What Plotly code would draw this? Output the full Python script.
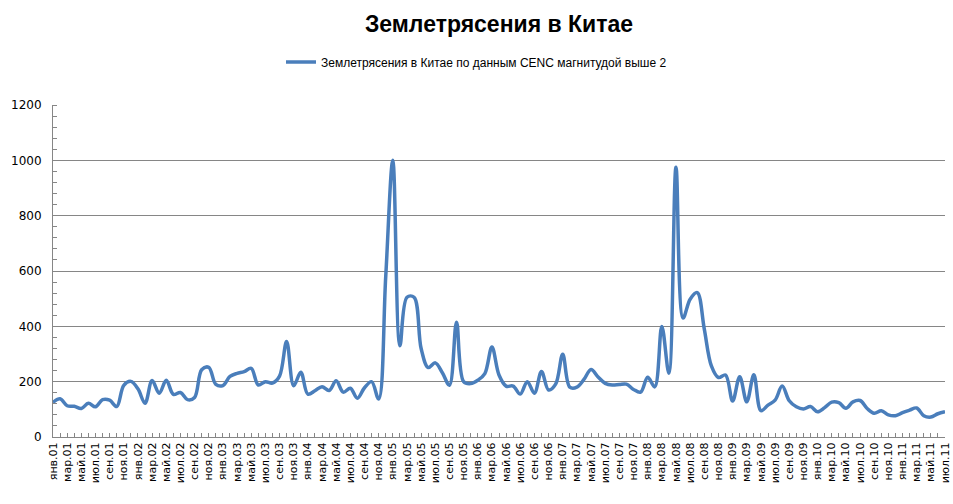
import plotly.graph_objects as go

# Month labels (Jan 2001 .. Jul 2011)
month_abbr = ["янв", "фев", "мар", "апр", "май", "июн", "июл", "авг", "сен", "окт", "ноя", "дек"]
years = list(range(1, 12))
categories = [f"{m}.{y:02d}" for y in years for m in month_abbr][:127]

# Monthly number of earthquakes (M>2, CENC)
quakes = [
    125, 138, 113, 111, 103, 122, 109, 135, 133, 110,
    187, 201, 174, 122, 204, 158, 205, 154, 161, 135,
    143, 243, 252, 190, 186, 219, 230, 236, 248, 188,
    200, 195, 220, 345, 185, 234, 155, 167, 182, 168,
    203, 162, 176, 140, 178, 200, 137, 580, 1000, 330,
    505, 505, 320, 251, 268, 232, 187, 415, 200, 193,
    205, 229, 325, 224, 184, 184, 155, 200, 158, 237,
    170, 191, 299, 180, 180, 208, 244, 217, 194, 188,
    190, 191, 172, 162, 216, 181, 399, 230, 975, 430,
    498, 522, 390, 257, 215, 224, 130, 218, 127, 225,
    95, 115, 133, 184, 131, 109, 101, 110, 91, 106,
    126, 124, 104, 127, 132, 103, 86, 95, 80, 77,
    88, 97, 105, 77, 72, 84, 91,
]

y_ticks = [0, 200, 400, 600, 800, 1000, 1200]

title_text = "Землетрясения в Китае"
series_name = "Землетрясения в Китае по данным CENC магнитудой выше 2"

idx = list(range(len(categories)))
tick_idx = idx[::2]
tick_txt = categories[::2]

fig = go.Figure()
fig.add_trace(go.Scatter(
    x=idx, y=quakes, mode="lines", name=series_name,
    line=dict(color="#4A7EBB", width=3.5, shape="spline", smoothing=1.0),
    customdata=categories,
    hovertemplate="%{customdata}: %{y}<extra></extra>",
))

axis_col = "#868686"
fig.update_layout(
    width=953, height=504,
    margin=dict(l=53, r=8, t=105, b=67, autoexpand=False),
    paper_bgcolor="white", plot_bgcolor="white",
    showlegend=True,
    title=dict(
        text=f"<b>{title_text}</b>",
        x=0.5, xref="paper", xanchor="center",
        y=1 - 24 / 504, yref="container", yanchor="middle",
        font=dict(family="Liberation Sans, Arial, sans-serif", size=23, color="#000000"),
    ),
    legend=dict(
        orientation="h",
        x=0.5, xref="container", xanchor="center",
        y=1 - 62 / 504, yref="container", yanchor="middle",
        itemwidth=30,
        font=dict(family="Liberation Sans, Arial, sans-serif", size=12, color="#000000"),
        bgcolor="rgba(0,0,0,0)",
    ),
    xaxis=dict(
        range=[0, len(idx) - 1],
        automargin=False,
        tickmode="array", tickvals=tick_idx, ticktext=tick_txt,
        tickangle=-90,
        ticks="inside", ticklen=4, tickcolor=axis_col,
        minor=dict(ticks="inside", ticklen=4, tickcolor=axis_col, tick0=0, dtick=1),
        showgrid=False, zeroline=False,
        showline=True, linecolor=axis_col, linewidth=1,
        ticklabeloverflow="allow",
        tickfont=dict(family="DejaVu Sans, Verdana, sans-serif", size=11, color="#000000"),
    ),
    yaxis=dict(
        range=[0, 1200],
        automargin=False,
        tickmode="array", tickvals=y_ticks, ticktext=[str(v) for v in y_ticks],
        ticks="", showgrid=True, gridcolor=axis_col, gridwidth=1,
        minor=dict(ticks="inside", ticklen=4, tickcolor=axis_col, tick0=0, dtick=40, showgrid=False),
        zeroline=False,
        showline=True, linecolor=axis_col, linewidth=1,
        ticklabelstandoff=8,
        tickfont=dict(family="DejaVu Sans, Verdana, sans-serif", size=12, color="#000000"),
    ),
)

fig.write_html("out.html")
